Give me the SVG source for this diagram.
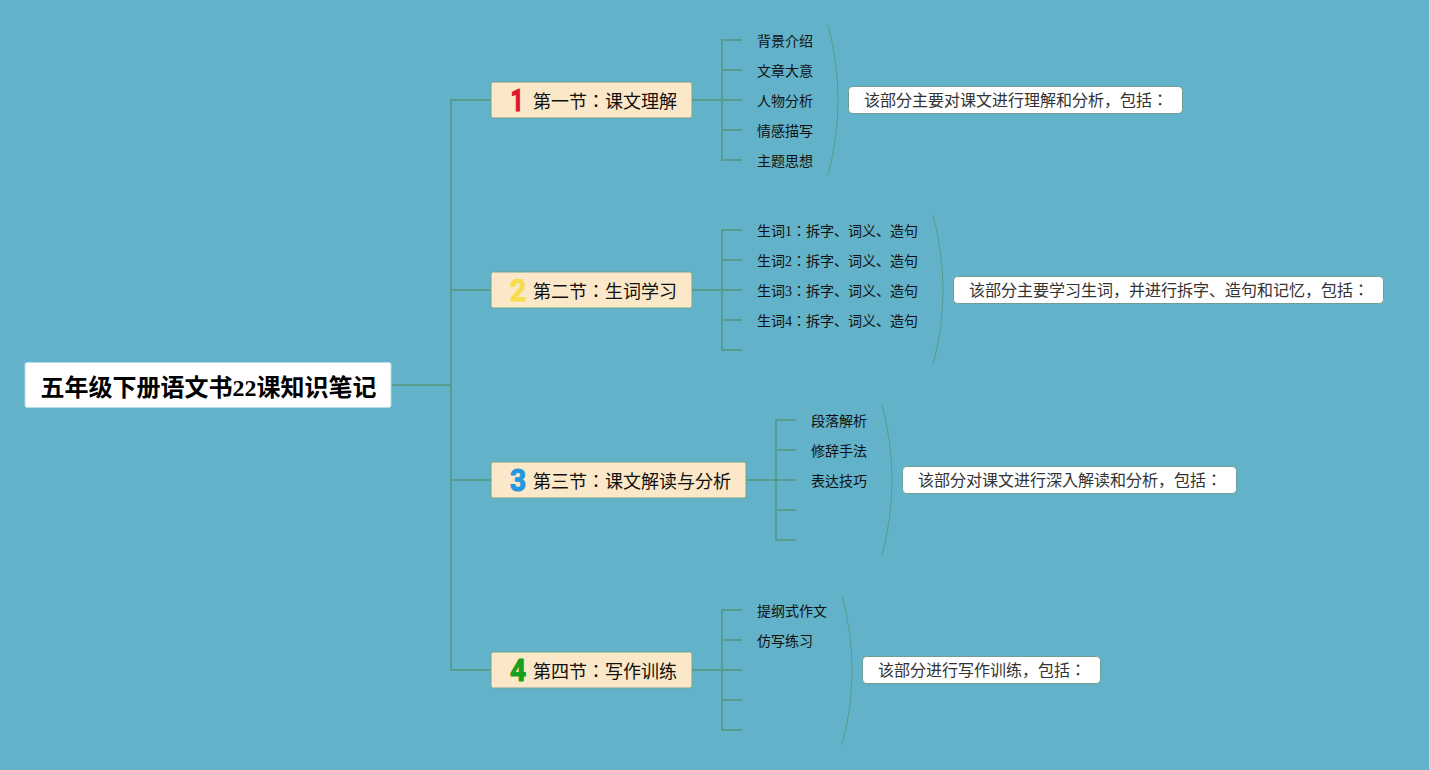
<svg xmlns="http://www.w3.org/2000/svg" width="1429" height="770" viewBox="0 0 1429 770">
<style>
text{font-family:"Liberation Serif","Noto Sans CJK JP",serif;fill:#000}
.bg{fill:#62b2c9}
.c{fill:none;stroke:#589c8e;stroke-width:2}
.b{fill:none;stroke:#589c8e;stroke-width:1}
.root{fill:#fff;stroke:#b5dbe4;stroke-width:1}
.sec{fill:#fbe8c8;stroke:#6fa594;stroke-width:1}
.note{fill:#fff;stroke:#6f9d96;stroke-width:1}
.rt{font-size:24px;font-weight:700}
.st{font-size:18px;fill:#111}
.lf{font-size:14px;fill:#111}
.nt{font-size:16px;fill:#333}
.ic{font-family:"Roboto","Liberation Sans",sans-serif;font-size:32px;font-weight:700;text-anchor:middle;stroke-width:1.200;stroke-linejoin:round}
</style>
<rect class="bg" width="1429" height="770"/>
<g id="connectors">
<path class="c" d="M391 385H451M491 100H451V670H491M451 290H491M451 480H491"/>
<path class="c" d="M692 100H742M742 40H722V160H742M722 70H742M722 130H742"/>
<path class="c" d="M692 290H742M742 230H722V350H742M722 260H742M722 320H742"/>
<path class="c" d="M746 480H796M796 420H776V540H796M776 450H796M776 510H796"/>
<path class="c" d="M692 670H742M742 610H722V730H742M722 640H742M722 700H742"/>
<path class="b" d="M828 25Q848 100 828 175"/>
<path class="b" d="M933 215Q953 290 933 365"/>
<path class="b" d="M882 405Q902 480 882 555"/>
<path class="b" d="M842 595Q862 670 842 745"/>
</g>
<g id="root"><rect class="root" x="25" y="362.500" width="366" height="45" rx="2"/><text class="rt" x="40.500" y="395.500">五年级下册语文书22课知识笔记</text></g>
<g id="s1"><rect class="sec" x="491" y="82" width="201" height="36" rx="2"/><text class="ic" transform="translate(517 111) scale(.72 1)" style="fill:#e2132d;stroke:#e2132d">1</text><text class="st" x="533" y="107.500">第一节：课文理解</text></g>
<g id="s2"><rect class="sec" x="491" y="272" width="201" height="36" rx="2"/><text class="ic" transform="translate(518 301) scale(.88 1)" style="fill:#f7dc4b;stroke:#f7dc4b">2</text><text class="st" x="533" y="297.500">第二节：生词学习</text></g>
<g id="s3"><rect class="sec" x="491" y="462" width="255" height="36" rx="2"/><text class="ic" transform="translate(518 491) scale(.88 1)" style="fill:#2497de;stroke:#2497de">3</text><text class="st" x="533" y="487.500">第三节：课文解读与分析</text></g>
<g id="s4"><rect class="sec" x="491" y="652" width="201" height="36" rx="2"/><text class="ic" transform="translate(518 681) scale(.88 1)" style="fill:#16a01f;stroke:#16a01f">4</text><text class="st" x="533" y="677.500">第四节：写作训练</text></g>
<g id="l1"><text class="lf" x="757" y="46">背景介绍</text><text class="lf" x="757" y="76">文章大意</text><text class="lf" x="757" y="106">人物分析</text><text class="lf" x="757" y="136">情感描写</text><text class="lf" x="757" y="166">主题思想</text></g>
<g id="l2"><text class="lf" x="757" y="236">生词1：拆字、词义、造句</text><text class="lf" x="757" y="266">生词2：拆字、词义、造句</text><text class="lf" x="757" y="296">生词3：拆字、词义、造句</text><text class="lf" x="757" y="326">生词4：拆字、词义、造句</text></g>
<g id="l3"><text class="lf" x="811" y="426">段落解析</text><text class="lf" x="811" y="456">修辞手法</text><text class="lf" x="811" y="486">表达技巧</text></g>
<g id="l4"><text class="lf" x="757" y="616">提纲式作文</text><text class="lf" x="757" y="646">仿写练习</text></g>
<g id="n1"><rect class="note" x="848.500" y="86.500" width="334" height="27" rx="4"/><text class="nt" x="864" y="105.500">该部分主要对课文进行理解和分析，包括：</text></g>
<g id="n2"><rect class="note" x="953.500" y="276.500" width="430" height="27" rx="4"/><text class="nt" x="969" y="295.500">该部分主要学习生词，并进行拆字、造句和记忆，包括：</text></g>
<g id="n3"><rect class="note" x="902.500" y="466.500" width="334" height="27" rx="4"/><text class="nt" x="918" y="485.500">该部分对课文进行深入解读和分析，包括：</text></g>
<g id="n4"><rect class="note" x="862.500" y="656.500" width="238" height="27" rx="4"/><text class="nt" x="878" y="675.500">该部分进行写作训练，包括：</text></g>
</svg>
